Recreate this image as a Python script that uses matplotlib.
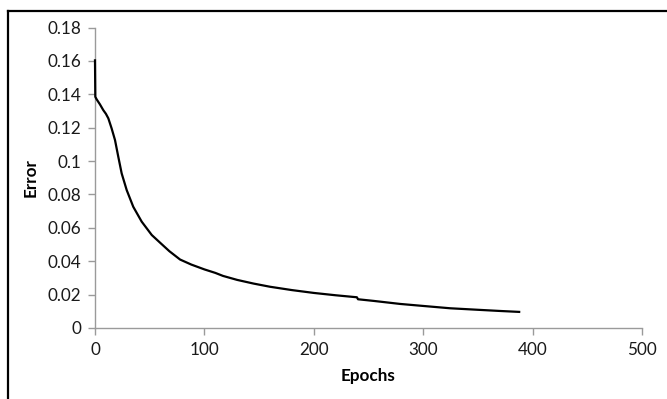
import numpy as np
import matplotlib.pyplot as plt
from matplotlib.lines import Line2D

# values
epochs = [0, 0.3, 1.5, 4.5, 7.6, 10, 12.2, 15.2, 18.3, 21.3, 24.4, 29, 35,
          42.7, 51.9, 59.5, 68, 77.8, 88, 100, 110, 117, 130, 145, 160, 180,
          200, 220, 239.4, 240.5, 255, 279, 300, 324.8, 350, 370, 388.8]
error = [0.1610, 0.1385, 0.1370, 0.1340, 0.1305, 0.1283, 0.1256, 0.1196,
         0.1126, 0.1026, 0.0926, 0.0826, 0.0726, 0.0637, 0.0557, 0.0511,
         0.0460, 0.0410, 0.0380, 0.0351, 0.0330, 0.0312, 0.0288, 0.0266,
         0.0247, 0.0227, 0.0210, 0.0196, 0.0184, 0.0172, 0.0162, 0.0144,
         0.0132, 0.0118, 0.0109, 0.0102, 0.0096]

xticks = [0, 100, 200, 300, 400, 500]
yticks = [0, 0.02, 0.04, 0.06, 0.08, 0.1, 0.12, 0.14, 0.16, 0.18]
ytick_labels = ['0', '0.02', '0.04', '0.06', '0.08', '0.1', '0.12', '0.14', '0.16', '0.18']

plt.rcParams['font.family'] = ['Lato', 'DejaVu Sans']

fig = plt.figure(figsize=(6.67, 3.99), dpi=100)
ax = fig.add_axes([0.1424, 0.178, 0.820, 0.753])

ax.plot(epochs, error, color='black', lw=1.6, solid_joinstyle='round',
        solid_capstyle='butt', zorder=5, clip_on=False)

ax.set_xlim(0, 500)
ax.set_ylim(0, 0.18)
ax.set_xticks(xticks)
ax.set_yticks(yticks)
ax.set_yticklabels(ytick_labels)

for side in ['top', 'right']:
    ax.spines[side].set_visible(False)
for side in ['left', 'bottom']:
    ax.spines[side].set_color('#9a9a9a')
    ax.spines[side].set_linewidth(1.0)
ax.tick_params(direction='out', length=5, width=1.0, color='#9a9a9a',
               labelsize=12.3, labelcolor='#1a1a1a', pad=5)

ax.set_xlabel('Epochs', fontsize=12.3, fontweight='bold', labelpad=7)
ax.set_ylabel('Error', fontsize=12.3, fontweight='bold', labelpad=6)

# chart border (cropped: only top and left edges visible)
fig.add_artist(Line2D([8 / 667, 1.0], [1 - 10.5 / 399, 1 - 10.5 / 399],
                      transform=fig.transFigure, color='black', lw=1.6))
fig.add_artist(Line2D([8 / 667, 8 / 667], [1 - 10.5 / 399, 0.0],
                      transform=fig.transFigure, color='black', lw=1.6))

fig.savefig('out.png', dpi=100)
